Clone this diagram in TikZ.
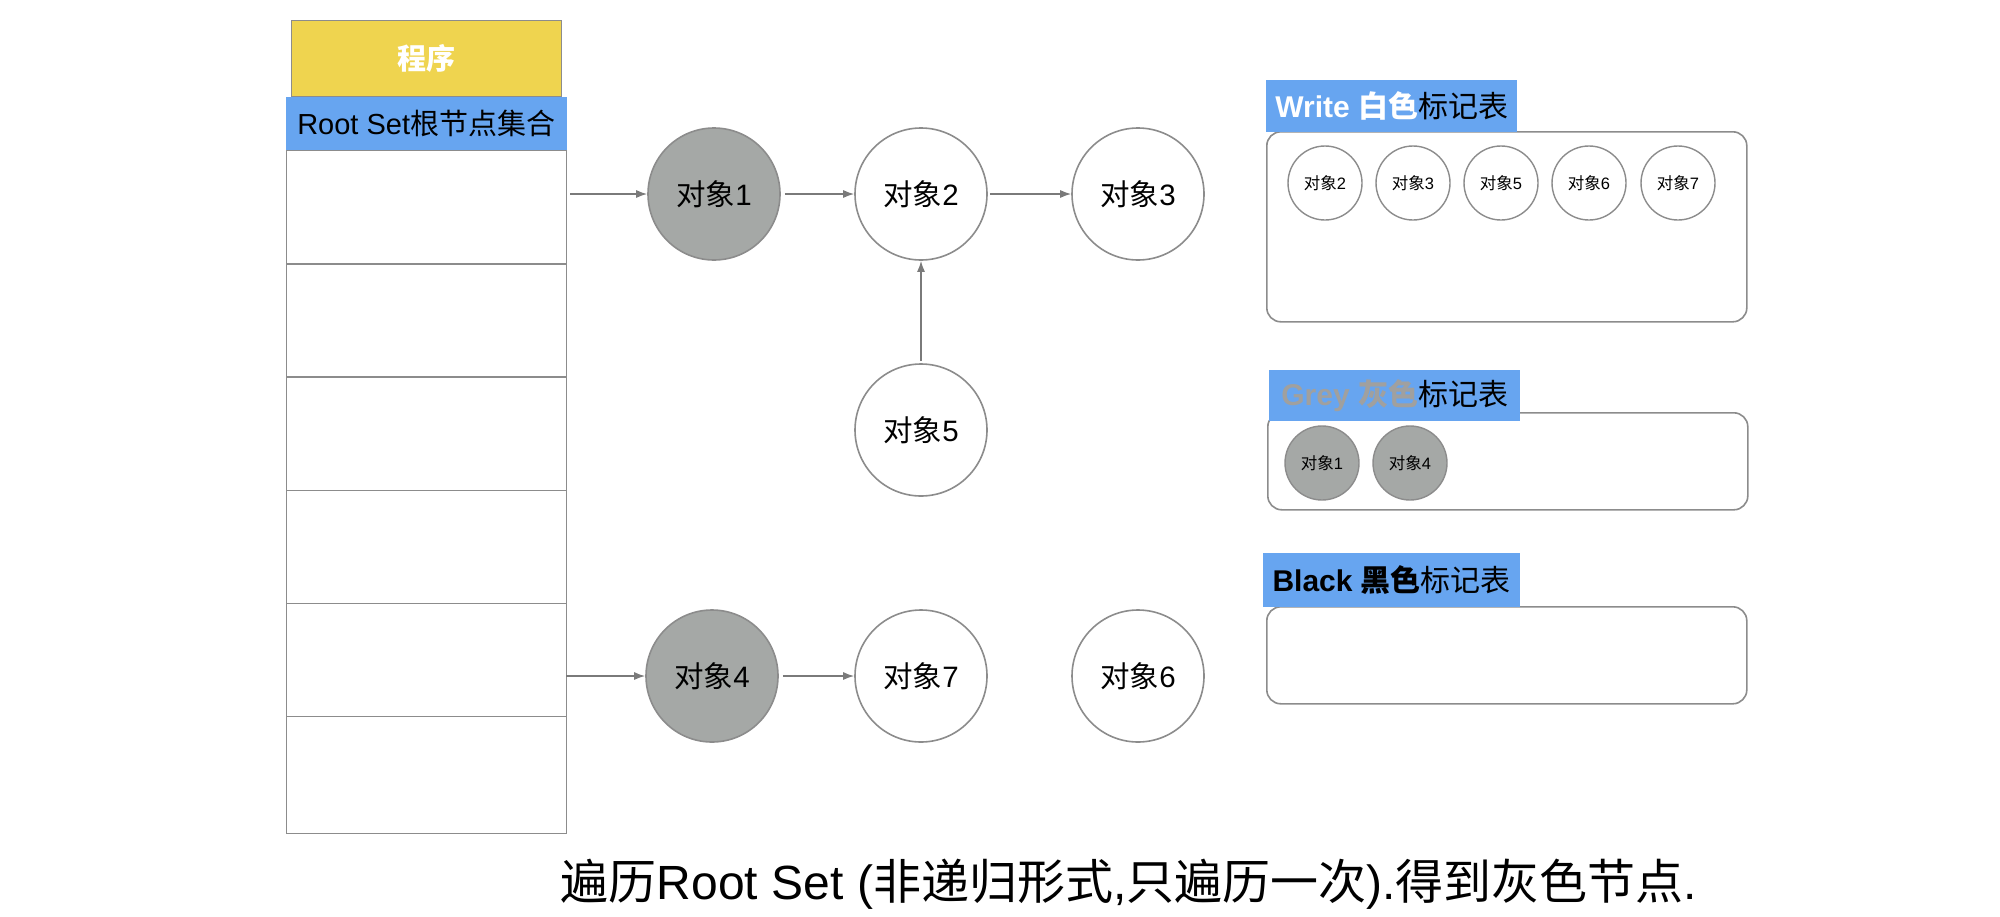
\documentclass[tikz,border=0pt]{standalone}
\usepackage{fontspec}
\setmainfont{Liberation Sans}
\newfontfamily\cjk{Noto Sans CJK SC}
\newcommand\cj[1]{{\cjk #1}}
\usetikzlibrary{arrows.meta}
\definecolor{lineg}{HTML}{8C8C8C}
\definecolor{arrg}{HTML}{7A7A7A}
\definecolor{fillg}{HTML}{A5A8A6}
\definecolor{hblue}{HTML}{67A5F0}
\definecolor{pyellow}{HTML}{EFD44F}
\definecolor{txtg}{HTML}{A0A09F}
\begin{document}
\begin{tikzpicture}[x=1pt,y=-1pt,
 obj/.style={circle, draw=lineg, line width=1.6pt, minimum size=132pt, inner sep=0pt, font=\fontsize{29.5}{34}\selectfont},
 grayobj/.style={obj, fill=fillg},
 mini/.style={circle, draw=lineg, line width=1.4pt, minimum size=74pt, inner sep=0pt, font=\fontsize{16.5}{20}\selectfont},
 graymini/.style={mini, fill=fillg},
 arr/.style={draw=arrg, line width=1.5pt, -{Latex[length=11pt,width=8pt]}},
 hdr/.style={fill=hblue, inner sep=0pt, anchor=north west, minimum width=251pt, minimum height=52pt, font=\fontsize{30}{36}\selectfont},
 tbox/.style={draw=lineg, line width=1.6pt, rounded corners=14pt},
 cell/.style={draw=lineg, line width=1.4pt, minimum width=280pt, minimum height=113.2pt, inner sep=0pt, anchor=north west}
]
\useasboundingbox[fill=white] (0,0) rectangle (2000,916);

% program and root set
\node[fill=pyellow, draw=lineg, line width=1.2pt, minimum width=270pt, minimum height=76pt, inner sep=0pt, anchor=north west,
  text=white, font=\fontsize{29}{34}\selectfont\bfseries] (prog) at (291,20) {\cj{程序}};
\node[fill=hblue, minimum width=281pt, minimum height=53pt, inner sep=0pt, anchor=north west,
  font=\fontsize{29}{34}\selectfont] (root) at (285.5,97) {Root Set\cj{根节点集合}};
\foreach \i in {0,...,4}{
  \node[cell] (c\i) at (286,150+113.2*\i) {};
}
\node[cell, minimum height=117pt] (c5) at (286,150+113.2*5) {};

% objects
\node[grayobj] (o1) at (714,194) {\cj{对象}1};
\node[obj] (o2) at (921,194) {\cj{对象}2};
\node[obj] (o3) at (1138,194) {\cj{对象}3};
\node[obj] (o5) at (921,430) {\cj{对象}5};
\node[grayobj] (o4) at (712,676) {\cj{对象}4};
\node[obj] (o7) at (921,676) {\cj{对象}7};
\node[obj] (o6) at (1138,676) {\cj{对象}6};

\coordinate (s1) at (570,194);
\coordinate (s4) at (566,676);
\draw[arr] (s1) -- (o1);
\draw[arr, shorten <=4pt] (o1) -- (o2);
\draw[arr, shorten <=2pt] (o2) -- (o3);
\draw[arr, shorten <=2pt] (o5) -- (o2);
\draw[arr] (s4) -- (o4);
\draw[arr, shorten <=4pt] (o4) -- (o7);

% white table
\node[tbox, minimum width=480pt, minimum height=190pt, inner sep=0pt, anchor=north west] (wbox) at (1266,131) {};
\node[hdr] (whdr) at (1266,80) {\textcolor{white}{\bfseries Write \cj{白色}}\cj{标记表}};
\node[mini] (w2) at (1325,183) {\cj{对象}2};
\node[mini] (w3) at (1413,183) {\cj{对象}3};
\node[mini] (w5) at (1501,183) {\cj{对象}5};
\node[mini] (w6) at (1589,183) {\cj{对象}6};
\node[mini] (w7) at (1678,183) {\cj{对象}7};

% grey table
\node[tbox, minimum width=480pt, minimum height=97pt, inner sep=0pt, anchor=north west] (gbox) at (1267,412) {};
\node[hdr, minimum height=51pt] (ghdr) at (1269,370) {\textcolor{txtg}{\bfseries Grey \cj{灰色}}\cj{标记表}};
\node[graymini] (g1) at (1322,463) {\cj{对象}1};
\node[graymini] (g4) at (1410,463) {\cj{对象}4};

% black table
\node[tbox, minimum width=480pt, minimum height=97pt, inner sep=0pt, anchor=north west] (bbox) at (1266,606) {};
\node[hdr, minimum width=257pt, minimum height=54pt] (bhdr) at (1263,553) {{\bfseries Black \cj{黑色}}\cj{标记表}};

% caption
\node[font=\fontsize{48}{56}\selectfont] (cap) at (1129,884) {\cj{遍历}Root Set (\cj{非递归形式},\cj{只遍历一次}).\cj{得到灰色节点}.};
\end{tikzpicture}
\end{document}
